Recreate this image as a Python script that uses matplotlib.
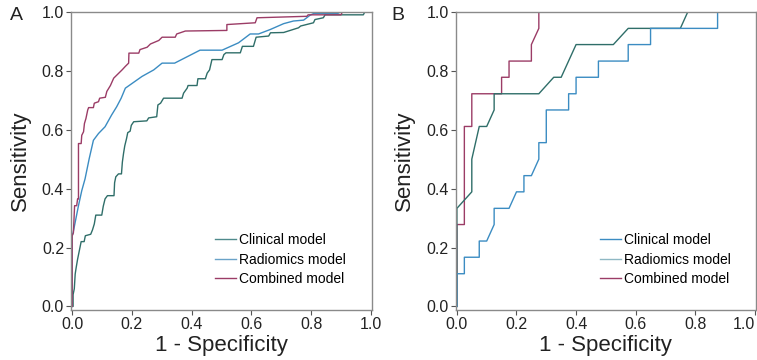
import matplotlib
matplotlib.use('Agg')
import matplotlib.pyplot as plt

plt.rcParams['font.family'] = ['Liberation Sans', 'DejaVu Sans']

# panel A (training set)
a_clin_fpr = [0.0, 0.003, 0.003, 0.007, 0.010, 0.013, 0.018, 0.022, 0.026, 0.030, 0.040, 0.044, 0.062, 0.068, 0.074,
              0.079, 0.099, 0.104, 0.110, 0.118, 0.140, 0.142, 0.146, 0.155, 0.165, 0.168, 0.172, 0.176, 0.182, 0.186,
              0.194, 0.198, 0.206, 0.250, 0.256, 0.283, 0.287, 0.296, 0.306, 0.368, 0.373, 0.385, 0.388, 0.418, 0.421,
              0.446, 0.452, 0.460, 0.468, 0.502, 0.508, 0.515, 0.563, 0.570, 0.607, 0.616, 0.658, 0.664, 0.708, 0.758,
              0.765, 0.808, 0.813, 0.841, 0.847, 0.975, 0.980, 1.0]
a_clin_tpr = [0.0, 0.0, 0.04, 0.06, 0.11, 0.13, 0.16, 0.18, 0.20, 0.22, 0.22, 0.24, 0.245, 0.26, 0.28,
              0.31, 0.31, 0.34, 0.365, 0.376, 0.376, 0.42, 0.44, 0.45, 0.45, 0.49, 0.52, 0.545, 0.57, 0.59,
              0.595, 0.615, 0.627, 0.63, 0.64, 0.644, 0.684, 0.69, 0.707, 0.707, 0.724, 0.741, 0.75, 0.75, 0.773,
              0.773, 0.792, 0.803, 0.838, 0.838, 0.855, 0.861, 0.861, 0.883, 0.883, 0.914, 0.918, 0.929, 0.930, 0.946,
              0.952, 0.963, 0.974, 0.980, 0.990, 0.990, 1.0, 1.0]

a_rad_fpr = [0.0, 0.0, 0.003, 0.012, 0.021, 0.032, 0.043, 0.057, 0.071, 0.088, 0.110, 0.132, 0.149, 0.164, 0.178,
             0.234, 0.273, 0.301, 0.343, 0.428, 0.502, 0.557, 0.596, 0.624, 0.663, 0.708, 0.741, 0.775, 0.797, 0.810,
             0.890, 0.900, 1.0]
a_rad_tpr = [0.0, 0.24, 0.25, 0.296, 0.342, 0.393, 0.433, 0.502, 0.564, 0.587, 0.610, 0.650, 0.678, 0.707, 0.741,
             0.781, 0.803, 0.826, 0.826, 0.870, 0.870, 0.895, 0.925, 0.925, 0.940, 0.960, 0.969, 0.972, 0.989, 0.995,
             0.995, 1.0, 1.0]

a_comb_fpr = [0.0, 0.0, 0.004, 0.008, 0.015, 0.018, 0.021, 0.021, 0.030, 0.032, 0.038, 0.041, 0.046, 0.052, 0.055,
              0.071, 0.074, 0.088, 0.092, 0.111, 0.116, 0.128, 0.139, 0.156, 0.167, 0.178, 0.189, 0.190, 0.223, 0.227,
              0.251, 0.262, 0.290, 0.301, 0.345, 0.350, 0.379, 0.518, 0.518, 0.613, 0.619, 0.786, 0.790, 0.900, 0.905,
              1.0]
a_comb_tpr = [0.0, 0.24, 0.25, 0.342, 0.342, 0.365, 0.365, 0.553, 0.553, 0.581, 0.593, 0.621, 0.638, 0.667, 0.675,
              0.675, 0.690, 0.695, 0.707, 0.710, 0.730, 0.750, 0.775, 0.792, 0.803, 0.815, 0.826, 0.860, 0.860, 0.872,
              0.880, 0.891, 0.903, 0.914, 0.914, 0.925, 0.935, 0.937, 0.957, 0.963, 0.980, 0.985, 0.990, 0.990, 1.0,
              1.0]

# panel B (validation set)
b_clin_fpr = [0, 0, 0.025, 0.025, 0.075, 0.075, 0.1, 0.125, 0.125, 0.175, 0.2, 0.225, 0.225, 0.25, 0.275, 0.275,
              0.3, 0.3, 0.375, 0.375, 0.4, 0.4, 0.475, 0.475, 0.575, 0.575, 0.65, 0.65, 0.875, 0.875, 1.0]
b_clin_tpr = [0, 0.111, 0.111, 0.167, 0.167, 0.222, 0.222, 0.278, 0.333, 0.333, 0.389, 0.389, 0.444, 0.444, 0.5, 0.556,
              0.556, 0.667, 0.667, 0.722, 0.722, 0.778, 0.778, 0.833, 0.833, 0.889, 0.889, 0.944, 0.944, 1.0, 1.0]

b_rad_fpr = [0, 0, 0.05, 0.05, 0.075, 0.1, 0.125, 0.125, 0.275, 0.325, 0.35, 0.4, 0.525, 0.575, 0.75, 0.775, 1.0]
b_rad_tpr = [0, 0.333, 0.389, 0.5, 0.611, 0.611, 0.667, 0.722, 0.722, 0.778, 0.778, 0.889, 0.889, 0.944, 0.944, 1.0, 1.0]

b_comb_fpr = [0, 0, 0.025, 0.025, 0.05, 0.05, 0.15, 0.15, 0.175, 0.175, 0.25, 0.25, 0.275, 0.275, 1.0]
b_comb_tpr = [0, 0.278, 0.278, 0.611, 0.611, 0.722, 0.722, 0.778, 0.778, 0.833, 0.833, 0.889, 0.944, 1.0, 1.0]

labels = ['Clinical model', 'Radiomics model', 'Combined model']
ticks = [0, 0.2, 0.4, 0.6, 0.8, 1.0]
tick_text = ['0.0', '0.2', '0.4', '0.6', '0.8', '1.0']

teal = '#2f6e69'
blue = '#3b8cc2'
maroon = '#9b3c66'
spine_col = '#8a8a8a'

fig = plt.figure(figsize=(7.57, 3.6), dpi=100)
axA = fig.add_axes([0.0938, 0.139, 0.3976, 0.828])
axB = fig.add_axes([0.602, 0.139, 0.3967, 0.828])


def style(ax):
    ax.set_xlim(-0.004, 1.004)
    ax.set_ylim(-0.012, 1.0)
    ax.set_xticks(ticks)
    ax.set_yticks(ticks)
    ax.set_xticklabels(tick_text)
    ax.set_yticklabels(tick_text)
    for s in ax.spines.values():
        s.set_color(spine_col)
        s.set_linewidth(1.0)
    ax.tick_params(direction='out', length=3.5, width=0.8, color='#555555',
                   labelsize=11.5, labelcolor='#222222', pad=1.5)
    ax.set_xlabel('1 - Specificity', fontsize=16, color='#222222', labelpad=2)
    ax.set_ylabel('Sensitivity', fontsize=16, color='#222222', labelpad=8)


def add_legend(ax, handles, x):
    return ax.legend(handles, labels, loc='upper left', bbox_to_anchor=(x, 0.258),
                     frameon=False, fontsize=10, handlelength=1.55, handletextpad=0.2,
                     labelspacing=0.4, borderpad=0, borderaxespad=0)


lA1, = axA.plot(a_clin_fpr, a_clin_tpr, color=teal, lw=1.0)
lA2, = axA.plot(a_rad_fpr, a_rad_tpr, color=blue, lw=1.0)
lA3, = axA.plot(a_comb_fpr, a_comb_tpr, color=maroon, lw=1.0)
style(axA)
legA = add_legend(axA, [lA1, lA2, lA3], 0.478)
legA.legend_handles[0].set_color('#4f8a8c')
legA.legend_handles[1].set_color('#6aa3c8')

lB3, = axB.plot(b_comb_fpr, b_comb_tpr, color=maroon, lw=1.0)
lB2, = axB.plot(b_rad_fpr, b_rad_tpr, color=teal, lw=1.0)
lB1, = axB.plot(b_clin_fpr, b_clin_tpr, color=blue, lw=1.0)
style(axB)
legB = add_legend(axB, [lB1, lB2, lB3], 0.48)
legB.legend_handles[1].set_color('#8fb8c4')

# keep the last x tick label of panel B inside the figure
axB.get_xticklabels()[-1].set_horizontalalignment('right')
axB.get_xticklabels()[-1].set_x(1.0)

fig.text(16 / 757, 1 - 15 / 360, 'A', fontsize=14, ha='center', va='center', color='#222222')
fig.text(398 / 757, 1 - 15 / 360, 'B', fontsize=14, ha='center', va='center', color='#222222')

fig.savefig('out.png', dpi=100)
